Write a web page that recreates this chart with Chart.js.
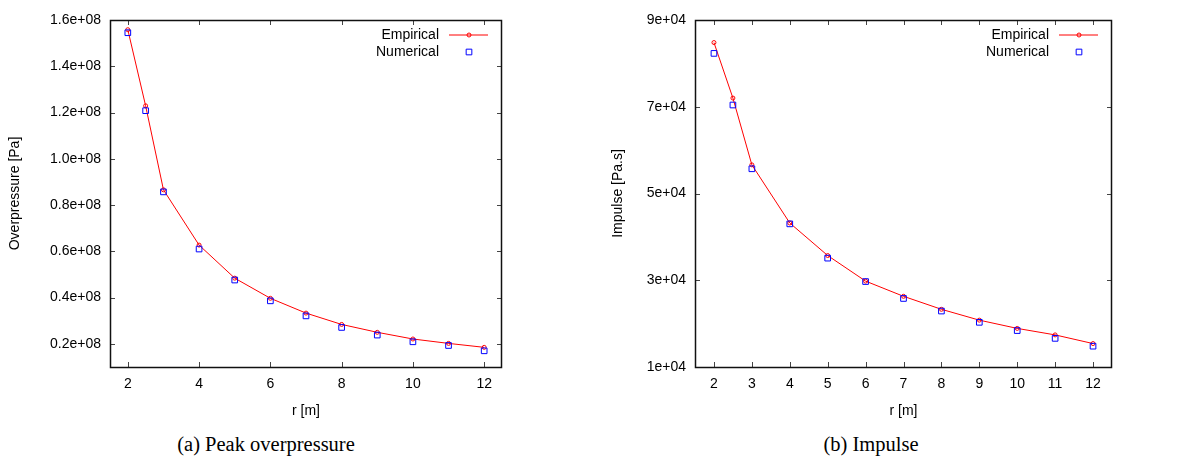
<!DOCTYPE html>
<html>
<head>
<meta charset="utf-8">
<script src="https://cdn.jsdelivr.net/npm/chart.js@4"></script>
<style>
  body { margin: 0; background: #fff; width: 1178px; height: 463px; position: relative; overflow: hidden; }
  canvas { position: absolute; top: 0; }
  #chartA { left: 0; }
  #chartB { left: 590px; }
  .caption { position: absolute; top: 433px; font-family: "Liberation Serif", "Times New Roman", serif; font-size: 20.5px; color: #000; text-align: center; }
</style>
</head>
<body>
<canvas id="chartA" width="590" height="425"></canvas>
<canvas id="chartB" width="588" height="425"></canvas>
<div class="caption" style="left:0; width:532px;">(a) Peak overpressure</div>
<div class="caption" style="left:590px; width:562px;">(b) Impulse</div>
<script>
// distance r [m]
const rValues = [2, 2.5, 3, 4, 5, 6, 7, 8, 9, 10, 11, 12];

// peak overpressure [Pa]
const pressureEmpirical = [1.558e8, 1.229e8, 0.866e8, 0.627e8, 0.484e8, 0.397e8, 0.333e8, 0.284e8, 0.250e8, 0.221e8, 0.202e8, 0.185e8];
const pressureNumerical = [1.545e8, 1.208e8, 0.857e8, 0.610e8, 0.476e8, 0.386e8, 0.321e8, 0.271e8, 0.238e8, 0.209e8, 0.193e8, 0.170e8];

// impulse [Pa.s]
const impulseEmpirical = [8.48e4, 7.20e4, 5.66e4, 4.32e4, 3.57e4, 2.98e4, 2.63e4, 2.33e4, 2.08e4, 1.89e4, 1.74e4, 1.54e4];
const impulseNumerical = [8.23e4, 7.04e4, 5.57e4, 4.30e4, 3.51e4, 2.97e4, 2.58e4, 2.29e4, 2.03e4, 1.84e4, 1.66e4, 1.48e4];

// tick labels
const rTicksA = [2, 4, 6, 8, 10, 12];
const rTicksB = [2, 3, 4, 5, 6, 7, 8, 9, 10, 11, 12];
const pressureTicks = [0.2e8, 0.4e8, 0.6e8, 0.8e8, 1.0e8, 1.2e8, 1.4e8, 1.6e8];
const impulseTicks = [1e4, 3e4, 5e4, 7e4, 9e4];

const sans = '"Liberation Sans", Arial, sans-serif';

// gnuplot style frame, inward ticks and key
const gnuFrame = {
  id: 'gnuFrame',
  afterDatasetsDraw(chart) {
    const { ctx, chartArea: a, scales: { x, y } } = chart;
    const tl = 5;
    ctx.save();
    ctx.strokeStyle = '#444';
    ctx.lineWidth = 1;
    ctx.beginPath();
    x.ticks.forEach(t => {
      const px = Math.round(x.getPixelForValue(t.value)) + 0.5;
      ctx.moveTo(px, a.bottom); ctx.lineTo(px, a.bottom - tl);
      ctx.moveTo(px, a.top); ctx.lineTo(px, a.top + tl);
    });
    y.ticks.forEach(t => {
      const py = Math.round(y.getPixelForValue(t.value)) + 0.5;
      ctx.moveTo(a.left, py); ctx.lineTo(a.left + tl, py);
      ctx.moveTo(a.right, py); ctx.lineTo(a.right - tl, py);
    });
    ctx.stroke();
    ctx.strokeStyle = '#111';
    ctx.lineWidth = 1.5;
    ctx.strokeRect(Math.round(a.left) + 0.5, Math.round(a.top) + 0.5, Math.round(a.width) - 1, Math.round(a.height));

    // key
    ctx.font = '14px ' + sans;
    ctx.textAlign = 'right';
    ctx.textBaseline = 'middle';
    chart.data.datasets.forEach((ds, i) => {
      const ky = a.top + 15 + i * 17;
      ctx.fillStyle = '#000';
      ctx.fillText(ds.label, a.right - 63, ky);
      const mx = a.right - 33;
      ctx.strokeStyle = ds.borderColor;
      ctx.lineWidth = 1;
      if (ds.showLine !== false) {
        ctx.beginPath();
        ctx.moveTo(a.right - 53, ky); ctx.lineTo(a.right - 14, ky);
        ctx.stroke();
      }
      ctx.beginPath();
      if (ds.pointStyle === 'rect') {
        const s = ds.pointRadius * Math.SQRT1_2;
        ctx.rect(mx - s, ky - s, 2 * s, 2 * s);
      } else {
        ctx.arc(mx, ky, ds.pointRadius, 0, Math.PI * 2);
      }
      ctx.stroke();
    });
    ctx.restore();
  }
};

function makeChart(id, opts) {
  new Chart(document.getElementById(id), {
    type: 'line',
    data: {
      datasets: [{
        label: 'Empirical',
        data: rValues.map((r, i) => ({ x: r, y: opts.emp[i] })),
        borderColor: '#ff0000',
        borderWidth: 1,
        backgroundColor: 'rgba(0,0,0,0)',
        pointStyle: 'circle',
        pointRadius: 2,
        pointBorderWidth: 1,
        pointBackgroundColor: 'rgba(0,0,0,0)',
        tension: 0,
        order: 1
      }, {
        label: 'Numerical',
        data: rValues.map((r, i) => ({ x: r, y: opts.num[i] })),
        showLine: false,
        borderColor: '#0000ff',
        borderWidth: 1,
        backgroundColor: 'rgba(0,0,0,0)',
        pointStyle: 'rect',
        pointRadius: 4,
        pointBorderWidth: 1,
        pointBackgroundColor: 'rgba(0,0,0,0)',
        order: 0
      }]
    },
    options: {
      responsive: false,
      animation: false,
      events: [],
      layout: { padding: { top: 20, right: opts.padRight, bottom: 0, left: 0 } },
      plugins: { legend: { display: false }, tooltip: { enabled: false } },
      scales: {
        x: {
          type: 'linear',
          min: 1.5,
          max: 12.5,
          afterBuildTicks: s => { s.ticks = opts.xTicks.map(v => ({ value: v })); },
          afterFit: s => { s.height = 58; },
          grid: { display: false, drawTicks: false },
          border: { display: false },
          ticks: { color: '#000', font: { family: sans, size: 14 }, padding: 9, maxRotation: 0, autoSkip: false },
          title: { display: true, text: 'r [m]', color: '#000', font: { family: sans, size: 14 }, padding: { top: 0, bottom: 5 } }
        },
        y: {
          min: opts.yMin,
          max: opts.yMax,
          afterBuildTicks: s => { s.ticks = opts.yTicks.map(v => ({ value: v })); },
          afterFit: s => { s.width = opts.yWidth; },
          grid: { display: false, drawTicks: false },
          border: { display: false },
          ticks: { color: '#000', font: { family: sans, size: 14 }, padding: 9, callback: opts.fmt, autoSkip: false },
          title: { display: true, text: opts.yTitle, color: '#000', font: { family: sans, size: 14 }, padding: { top: opts.yTitlePad, bottom: 0 } }
        }
      }
    },
    plugins: [gnuFrame]
  });
}

makeChart('chartA', {
  emp: pressureEmpirical, num: pressureNumerical,
  xTicks: rTicksA, yTicks: pressureTicks,
  yMin: 0.1e8, yMax: 1.6e8,
  fmt: v => (v / 1e8).toFixed(1) + 'e+08',
  yTitle: 'Overpressure [Pa]', yTitlePad: 7,
  yWidth: 110, padRight: 88
});

makeChart('chartB', {
  emp: impulseEmpirical, num: impulseNumerical,
  xTicks: rTicksB, yTicks: impulseTicks,
  yMin: 1e4, yMax: 9e4,
  fmt: v => (v / 1e4).toFixed(0) + 'e+04',
  yTitle: 'Impulse [Pa.s]', yTitlePad: 20,
  yWidth: 105, padRight: 66
});
</script>
</body>
</html>
